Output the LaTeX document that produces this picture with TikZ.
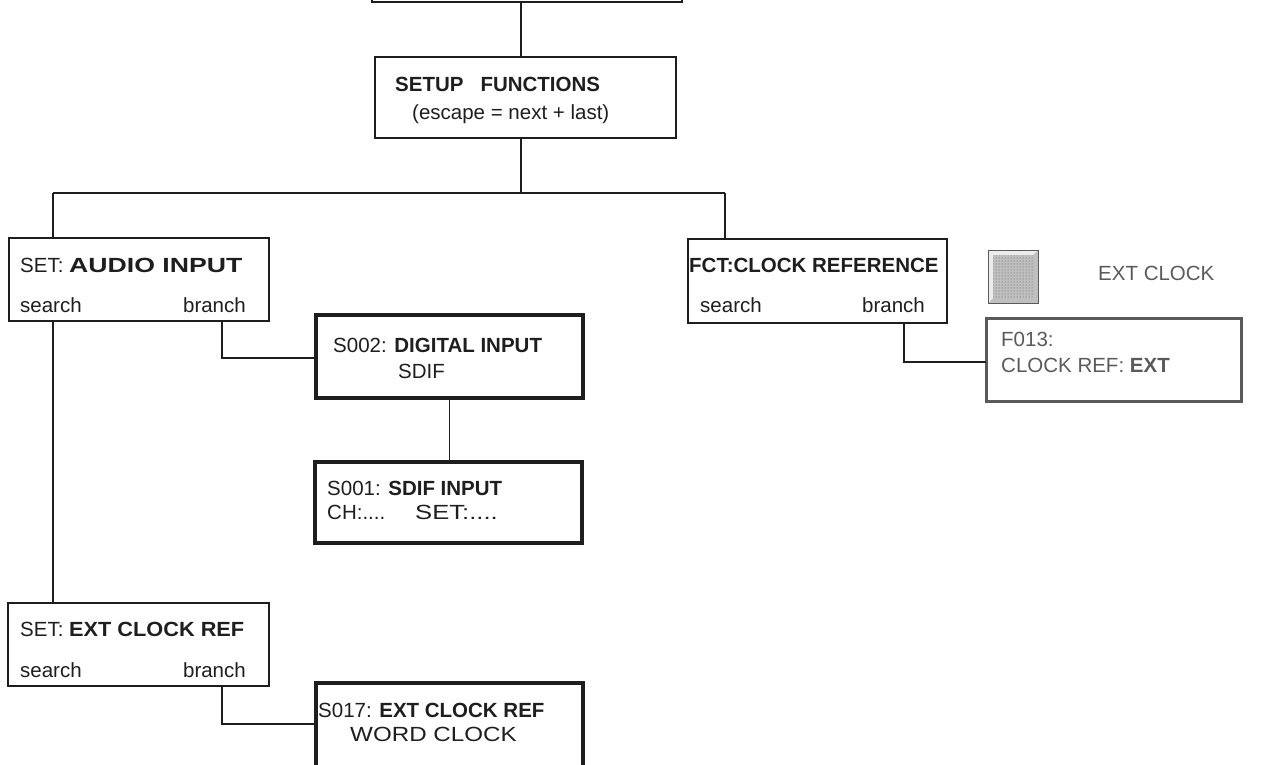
\documentclass[tikz,border=0pt]{standalone}
\usepackage{graphicx}
\usepackage{fontspec}
\setmainfont{Liberation Sans}
\usetikzlibrary{patterns}

\definecolor{ink}{HTML}{1E1E1E}
\definecolor{dim}{HTML}{5A5A5A}

% horizontal stretch for the wide lettering of the scan
\newcommand{\widen}[2]{\scalebox{#1}[1]{#2}}

\tikzset{
  box/.style={draw=ink, rectangle, line width=1.3pt, inner sep=0pt, outer sep=0pt, anchor=north west},
  heavy/.style={line width=3.2pt},
  faded/.style={draw=dim, line width=3pt},
  txt/.style={anchor=base west, inner sep=0pt, text=ink, font=\fontsize{20.5}{23}\selectfont},
  wire/.style={draw=ink, line width=1.3pt}
}

\begin{document}
\begin{tikzpicture}[x=1pt, y=-1pt]
        \useasboundingbox (0,0) rectangle (1272,765);

        % boxes
        \begin{scope}[every node/.append style={box}]
          \node[minimum width=310pt, minimum height=42pt] (top) at (372,-40) {};
          \node[minimum width=301pt, minimum height=81pt] (setup) at (375,57) {};
          \node[minimum width=260pt, minimum height=83pt] (audio) at (9,238) {};
          \node[heavy, minimum width=267pt, minimum height=83pt] (digital) at (316,315) {};
          \node[heavy, minimum width=267pt, minimum height=81pt] (sdif) at (315,462) {};
          \node[minimum width=259pt, minimum height=84pt] (clockref) at (688,239) {};
          \node[faded, minimum width=255pt, minimum height=83pt] (fct) at (986,318) {};
          \node[minimum width=261pt, minimum height=83pt] (extclk) at (8,603) {};
          \node[heavy, minimum width=267pt, minimum height=100pt] (wordclk) at (316,683) {};
        \end{scope}

        % clock key
        \node[box, draw=dim, fill=gray!50, line width=1pt, minimum width=50pt, minimum height=53pt] (key) at (988,250) {};
        \fill[gray!15] (key.north west) -- (key.north east) -- ([xshift=-5pt,yshift=-5pt]key.north east)
          -- ([xshift=5pt,yshift=-5pt]key.north west) -- ([xshift=5pt,yshift=5pt]key.south west) -- (key.south west) -- cycle;
        \fill[pattern=dots, pattern color=dim] ([xshift=5pt,yshift=-5pt]key.north west) rectangle ([xshift=-5pt,yshift=5pt]key.south east);
        \draw[dim, line width=1pt] (key.north west) rectangle (key.south east);

        % texts
        \begin{scope}[every node/.append style={txt}]
          \node (setupA) at (395,92) {\textbf{SETUP\hspace{17pt}FUNCTIONS}};
          \node (setupB) at (412,120) {(escape = next + last)};
          \node (audioA) at (20,272) {SET: \textbf{\widen{1.3}{AUDIO INPUT}}};
          \node (audioB) at (20,312) {search};
          \node[anchor=base east] (audioC) at (246,312) {branch};
          \node (digitalA) at (333,352) {S002: \textbf{DIGITAL INPUT}};
          \node (digitalB) at (398,378) {SDIF};
          \node (sdifA) at (327,495) {S001: \textbf{SDIF INPUT}};
          \node (sdifB) at (327,519) {CH:....};
          \node (sdifC) at (415,519) {\widen{1.25}{SET:....}};
          \node (clockrefA) at (689,272) {\textbf{FCT:CLOCK REFERENCE}};
          \node (clockrefB) at (700,312) {search};
          \node[anchor=base east] (clockrefC) at (925,312) {branch};
          \node[text=dim] (fctA) at (1001,346) {F013:};
          \node[text=dim] (fctB) at (1001,372) {CLOCK REF: \textbf{EXT}};
          \node[text=dim] (keyA) at (1098,280) {EXT CLOCK};
          \node (extclkA) at (20,636) {SET: \textbf{\widen{1.06}{EXT CLOCK REF}}};
          \node (extclkB) at (20,677) {search};
          \node[anchor=base east] (extclkC) at (246,677) {branch};
          \node (wordclkA) at (318,717) {S017: \textbf{EXT CLOCK REF}};
          \node (wordclkB) at (350,741) {\widen{1.18}{WORD CLOCK}};
        \end{scope}

        % connectors
        \coordinate (bus) at (521,193);
        \coordinate (busL) at (53,193);
        \coordinate (busR) at (725,193);
        \coordinate (audbr) at (222,358);
        \coordinate (clkbr) at (904,362);
        \coordinate (extbr) at (222,724);

        \begin{scope}[every path/.style={wire}]
          \draw (top.south -| bus) -- (setup.north -| bus);
          \draw (setup.south -| bus) -- (bus);
          \draw (busL) -- (busR);
          \draw (busL) -- (audio.north -| busL);
          \draw (busR) -- (clockref.north -| busR);
          \draw (audio.south -| busL) -- (extclk.north -| busL);
          \draw (audio.south -| audbr) |- (digital.west |- audbr);
          \draw (digital.south) -- (digital.south |- sdif.north);
          \draw (clockref.south -| clkbr) |- (fct.west |- clkbr);
          \draw (extclk.south -| extbr) |- (wordclk.west |- extbr);
        \end{scope}

      \end{tikzpicture}
\end{document}
